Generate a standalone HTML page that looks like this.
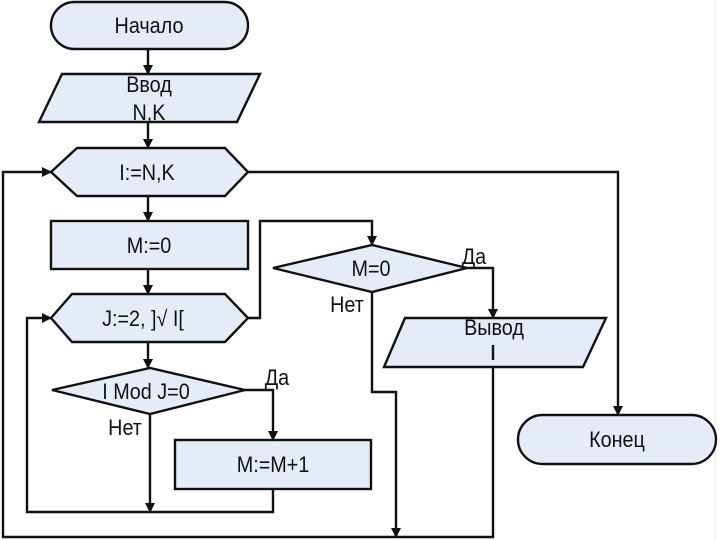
<!DOCTYPE html>
<html><head><meta charset="utf-8"><style>
html,body{margin:0;padding:0;background:#fff;}
svg{display:block}
text{font-family:"Liberation Sans","DejaVu Sans",sans-serif;font-size:22px;fill:#111;}
</style></head><body>
<svg width="720" height="540" viewBox="0 0 720 540" xmlns="http://www.w3.org/2000/svg">
<defs>
<marker id="a" markerWidth="10" markerHeight="10" refX="9" refY="5" orient="auto" markerUnits="userSpaceOnUse">
<path d="M0,0 L10,5 L0,10 Z" fill="#111"/>
</marker>
</defs>
<rect x="0" y="0" width="720" height="540" fill="#fff"/>
<line x1="715" y1="0" x2="715" y2="540" stroke="#e4e4e4" stroke-width="1"/>
<g fill="#e6ecf7" stroke="#111" stroke-width="2.4">
<rect x="51" y="2" width="197" height="47" rx="23.5"/>
<polygon points="62,74 260,74 237,122 39,122"/>
<polygon points="51,172 77,148 225,148 248,172 225,196 77,196"/>
<rect x="51" y="221" width="197" height="48"/>
<polygon points="51,318 72,294 225,294 248,318 225,342 72,342"/>
<polygon points="273,268 372,245 467,268 372,292"/>
<polygon points="405,318 606,318 583,367 384,367"/>
<rect x="518" y="415" width="198" height="49" rx="24.5"/>
<polygon points="52,390 150,368 245,390 150,414"/>
<rect x="175" y="440" width="196" height="49"/>
</g>
<g fill="none" stroke="#111" stroke-width="2.4">
<line x1="148" y1="49" x2="148" y2="74" marker-end="url(#a)"/>
<line x1="148" y1="122" x2="148" y2="148" marker-end="url(#a)"/>
<line x1="148" y1="196" x2="148" y2="221" marker-end="url(#a)"/>
<line x1="148" y1="269" x2="148" y2="294" marker-end="url(#a)"/>
<line x1="148" y1="342" x2="148" y2="368" marker-end="url(#a)"/>
<polyline points="248,172 618,172 618,415" marker-end="url(#a)"/>
<polyline points="493,367 493,537 3,537 3,172 51,172" marker-end="url(#a)"/>
<line x1="493" y1="345" x2="493" y2="360"/>
<polyline points="248,318 260,318 260,221 372,221 372,245" marker-end="url(#a)"/>
<polyline points="467,268 493,268 493,318" marker-end="url(#a)"/>
<polyline points="372,292 372,392 396,392 396,537" marker-end="url(#a)"/>
<polyline points="245,390 273,390 273,440" marker-end="url(#a)"/>
<line x1="150" y1="414" x2="150" y2="512" marker-end="url(#a)"/>
<polyline points="273,489 273,512 27,512 27,318 51,318" marker-end="url(#a)"/>
</g>
<g text-anchor="middle">
<text x="149" y="33" transform="translate(149 0) scale(0.9 1) translate(-149 0)">Начало</text>
<text x="149" y="92" transform="translate(149 0) scale(0.9 1) translate(-149 0)">Ввод</text>
<text x="149" y="120" transform="translate(149 0) scale(0.9 1) translate(-149 0)">N,K</text>
<text x="147" y="180" transform="translate(147 0) scale(0.9 1) translate(-147 0)">I:=N,K</text>
<text x="149" y="253" transform="translate(149 0) scale(0.9 1) translate(-149 0)">M:=0</text>
<text x="143" y="326" transform="translate(143 0) scale(0.9 1) translate(-143 0)">J:=2,  ]√ I[</text>
<text x="146" y="399" transform="translate(146 0) scale(0.9 1) translate(-146 0)">I Mod  J=0</text>
<text x="273" y="472" transform="translate(273 0) scale(0.9 1) translate(-273 0)">M:=M+1</text>
<text x="371" y="276" transform="translate(371 0) scale(0.9 1) translate(-371 0)">M=0</text>
<text x="494" y="335" transform="translate(494 0) scale(0.9 1) translate(-494 0)">Вывод</text>
<text x="617" y="447" transform="translate(617 0) scale(0.9 1) translate(-617 0)">Конец</text>
<text x="474" y="264" transform="translate(474 0) scale(0.9 1) translate(-474 0)">Да</text>
<text x="347" y="312" transform="translate(347 0) scale(0.9 1) translate(-347 0)">Нет</text>
<text x="277" y="385" transform="translate(277 0) scale(0.9 1) translate(-277 0)">Да</text>
<text x="125" y="435" transform="translate(125 0) scale(0.9 1) translate(-125 0)">Нет</text>
</g>
</svg>
</body></html>
